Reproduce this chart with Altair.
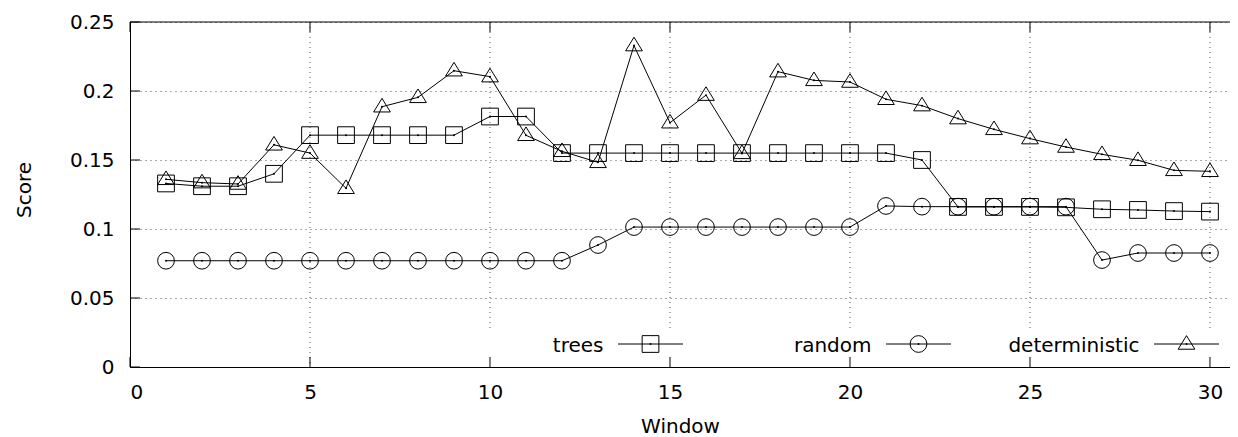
import altair as alt
import pandas as pd

# ---------------- data ----------------
WINDOWS = list(range(1, 31))
TREES = [0.133, 0.131, 0.131, 0.140, 0.168, 0.168, 0.168, 0.168, 0.168, 0.1815,
         0.1815, 0.155, 0.155, 0.155, 0.155, 0.155, 0.155, 0.155, 0.155, 0.155,
         0.155, 0.150, 0.116, 0.116, 0.116, 0.1157, 0.1143, 0.1138, 0.113, 0.1126]
RANDOM = [0.077, 0.077, 0.077, 0.077, 0.077, 0.077, 0.077, 0.077, 0.077, 0.077,
          0.077, 0.077, 0.0884, 0.1014, 0.1014, 0.1014, 0.1014, 0.1014, 0.1014, 0.1014,
          0.1167, 0.1162, 0.1162, 0.1162, 0.1162, 0.1162, 0.0775, 0.0826, 0.0826, 0.0826]
DETERMINISTIC = [0.136, 0.1336, 0.1326, 0.161, 0.155, 0.1295, 0.1886, 0.1954, 0.2147, 0.2104,
                 0.1679, 0.1563, 0.1483, 0.2329, 0.177, 0.197, 0.1548, 0.214, 0.2077, 0.2065,
                 0.194, 0.1894, 0.180, 0.1722, 0.1655, 0.1594, 0.1541, 0.1498, 0.1425, 0.1418]
SERIES = ["trees", "random", "deterministic"]
X_TICKS = [0, 5, 10, 15, 20, 25, 30]
Y_TICKS = [0, 0.05, 0.1, 0.15, 0.2, 0.25]
GRID_X = [5, 10, 15, 20, 25, 30]

# ---------------- style ----------------
W, H = 1100, 345
FONT = "DejaVu Sans"
TRI = "M0,-1L1,0.625L-1,0.625Z"
GRID_COLOR = "#555555"
DASH = [1, 4]

df = pd.DataFrame({
    "window": WINDOWS * 3,
    "score": TREES + RANDOM + DETERMINISTIC,
    "series": [s for s in SERIES for _ in WINDOWS],
})

xscale = alt.Scale(domain=[0, 30.556], nice=False, zero=False)
yscale = alt.Scale(domain=[0, 0.25], nice=False)
shape_scale = alt.Scale(domain=SERIES, range=["square", "circle", TRI])

x_enc = alt.X("window:Q", scale=xscale,
              axis=alt.Axis(values=X_TICKS, format="d", title="Window", grid=False,
                            ticks=False, tickSize=0, labelPadding=31,
                            labelBaseline="alphabetic", titleY=65,
                            titleBaseline="alphabetic"))
y_enc = alt.Y("score:Q", scale=yscale,
              axis=alt.Axis(values=Y_TICKS, format="~g", title="Score", grid=True,
                            gridDash=DASH, gridColor=GRID_COLOR, gridWidth=1,
                            ticks=False, tickSize=0, labelPadding=16,
                            labelBaseline="middle", titleAngle=270, titleX=-100,
                            titleY=167.5, titleAlign="center",
                            titleBaseline="alphabetic"))

base = alt.Chart(df)

lines = base.mark_line(color="black", strokeWidth=1).encode(
    x=x_enc, y=y_enc, detail="series:N")
markers = base.mark_point(filled=False, size=280, color="black", strokeWidth=1,
                          opacity=1).encode(
    x="window:Q", y="score:Q",
    shape=alt.Shape("series:N", scale=shape_scale, legend=None))
dots = base.mark_circle(size=4, color="black", opacity=1).encode(
    x="window:Q", y="score:Q")

gx = alt.Chart(pd.DataFrame({"gx": GRID_X}))
vgrid_full = gx.transform_filter("datum.gx < 10").mark_rule(
    color=GRID_COLOR, strokeDash=DASH, strokeWidth=1).encode(
    x="gx:Q", y=alt.value(0), y2=alt.value(H))
vgrid_part = gx.transform_filter("datum.gx >= 10").mark_rule(
    color=GRID_COLOR, strokeDash=DASH, strokeWidth=1).encode(
    x="gx:Q", y=alt.value(0), y2=alt.value(310))

xt = alt.Chart(pd.DataFrame({"xt": X_TICKS}))
yt = alt.Chart(pd.DataFrame({"yt": Y_TICKS}))
bottom_ticks = xt.mark_rule(color="black").encode(
    x="xt:Q", y=alt.value(H - 10), y2=alt.value(H))
top_ticks = xt.mark_rule(color="black").encode(
    x="xt:Q", y=alt.value(0), y2=alt.value(10))
left_ticks = yt.mark_rule(color="black").encode(
    y="yt:Q", x=alt.value(0), x2=alt.value(10))

one = alt.Chart(pd.DataFrame({"k": [0]}))
top_border = one.mark_rule(color="black", strokeWidth=1).encode(
    x=alt.value(0), x2=alt.value(W), y=alt.value(0))

legend_layers = []
for i, name in enumerate(SERIES):
    off = 268 * i
    lb = alt.Chart(pd.DataFrame({"series": [name]}))
    legend_layers.append(lb.mark_text(align="right", baseline="alphabetic", font=FONT,
                                      fontSize=20, color="black").encode(
        x=alt.value(473.5 + off), y=alt.value(329.5), text="series:N"))
    legend_layers.append(lb.mark_rule(color="black", strokeWidth=1).encode(
        x=alt.value(488 + off), x2=alt.value(553 + off), y=alt.value(322)))
    legend_layers.append(lb.mark_point(filled=False, size=280, color="black",
                                       strokeWidth=1, opacity=1).encode(
        x=alt.value(520.5 + off), y=alt.value(322),
        shape=alt.Shape("series:N", scale=shape_scale, legend=None)))
    legend_layers.append(lb.mark_circle(size=4, color="black", opacity=1).encode(
        x=alt.value(520.5 + off), y=alt.value(322)))

chart = alt.layer(
    vgrid_full, vgrid_part, lines, markers, dots,
    bottom_ticks, top_ticks, left_ticks, top_border, *legend_layers
).properties(
    width=W, height=H,
    autosize=alt.AutoSizeParams(type="none"),
    padding={"left": 122, "top": 14, "right": 0, "bottom": 70},
).configure_view(stroke=None).configure_axis(
    labelFont=FONT, labelFontSize=20, titleFont=FONT, titleFontSize=20,
    titleFontWeight="normal", labelColor="black", titleColor="black",
    domainColor="black", domainWidth=1,
)

chart.save("out.html", embed_options={"renderer": "svg", "actions": False})
